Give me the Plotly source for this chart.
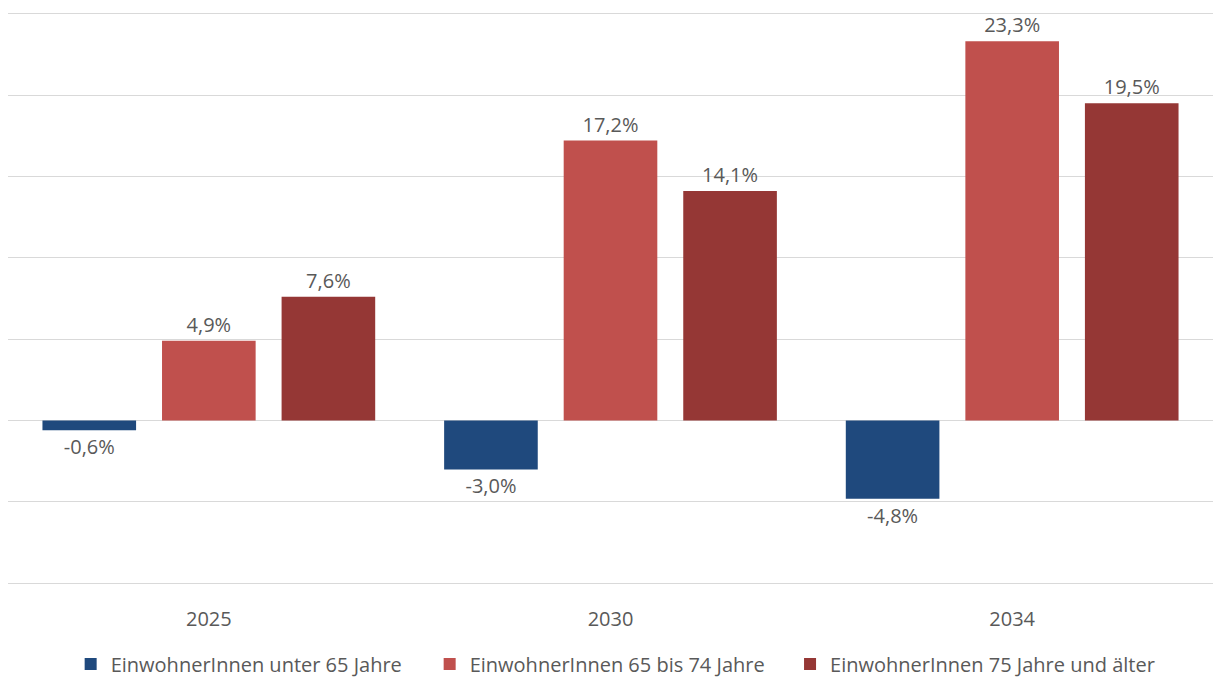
import plotly.graph_objects as go

years = ["2025", "2030", "2034"]
series_names = ["EinwohnerInnen unter 65 Jahre", "EinwohnerInnen 65 bis 74 Jahre", "EinwohnerInnen 75 Jahre und älter"]
under65 = [-0.6, -3.0, -4.8]
age65_74 = [4.9, 17.2, 23.3]
age75plus = [7.6, 14.1, 19.5]
colors = ["#1F497D", "#C0504D", "#953735"]
legend_ids = ["legend", "legend", "legend2"]

fig = go.Figure()
for name, vals, c, lg in zip(series_names, [under65, age65_74, age75plus], colors, legend_ids):
    fig.add_trace(go.Bar(
        x=years, y=vals, name=name, marker=dict(color=c, line=dict(width=0)),
        text=[f"{v:.1f}%".replace(".", ",") for v in vals],
        textposition="outside", cliponaxis=False,
        textfont=dict(size=20, color="#595959"), legend=lg,
    ))

legend_common = dict(orientation="h", yref="paper", y=-0.138, yanchor="middle",
                     font=dict(size=20, color="#595959"), itemwidth=30, traceorder="normal",
                     tracegroupgap=0, xanchor="left")
fig.update_layout(
    width=1213, height=677,
    margin=dict(l=8, r=0, t=12, b=92, autoexpand=False),
    paper_bgcolor="white", plot_bgcolor="white",
    font=dict(family="Open Sans", size=20, color="#595959"),
    barmode="group", bargap=0.107, bargroupgap=0.217,
    showlegend=True,
    legend=dict(x=0.052, entrywidth=314, **legend_common),
    legend2=dict(x=0.649, **legend_common),
)
fig.update_yaxes(range=[-10.1, 25.1], tickvals=[-10, -5, 0, 5, 10, 15, 20, 25], showticklabels=False,
                 gridcolor="#D9D9D9", gridwidth=1, zeroline=True, zerolinecolor="#D9D9D9", zerolinewidth=1)
fig.update_xaxes(showgrid=False, tickfont=dict(size=20, color="#595959"), ticks="outside",
                 ticklen=16, tickcolor="rgba(0,0,0,0)")
fig.write_html("out.html", config={"displayModeBar": False},
               post_script="document.body.style.margin='0';")
